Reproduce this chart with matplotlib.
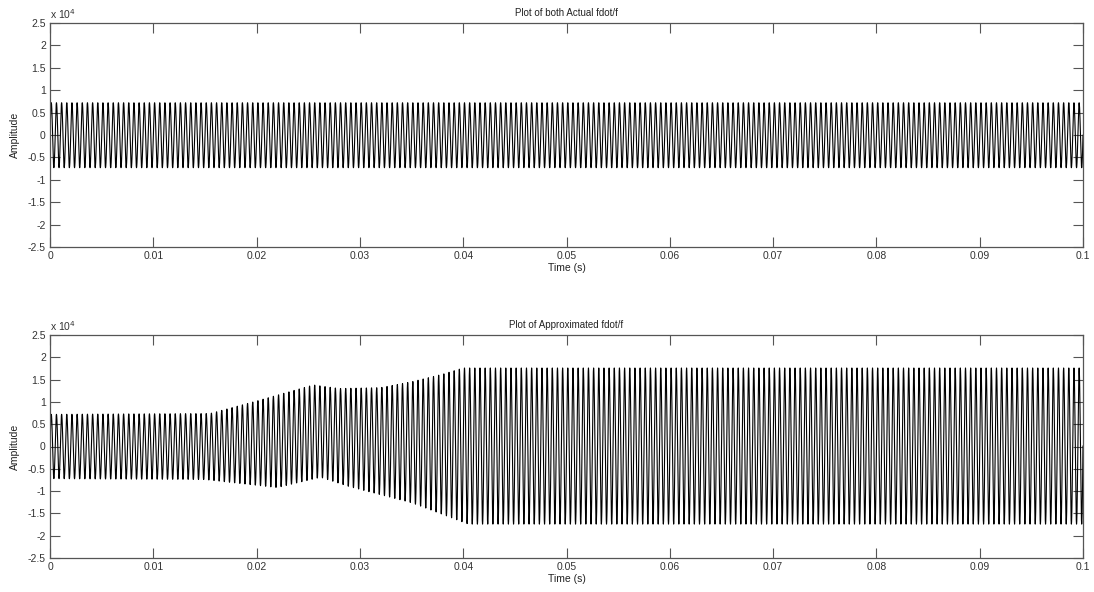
import numpy as np
import matplotlib
matplotlib.use("Agg")
import matplotlib.pyplot as plt
from matplotlib.ticker import FixedLocator, FuncFormatter

# Signal parameters
carrier_hz = 2000.0          # oscillation frequency of fdot/f
sample_rate = 200000.0       # samples per second
t_end = 0.1

# Actual fdot/f: constant envelope (amplitude in raw units)
actual_env_t = [0.0, 0.1]
actual_upper = [7200, 7200]
actual_lower = [-7300, -7300]

# Approximated fdot/f: envelope breakpoints (raw units)
approx_upper_t = [0.0, 0.0155, 0.020, 0.0255, 0.028, 0.032, 0.035, 0.038, 0.040, 0.1]
approx_upper = [7200, 7400, 10200, 13800, 13000, 13200, 14500, 16200, 17600, 17600]
approx_lower_t = [0.0, 0.015, 0.022, 0.0262, 0.029, 0.035, 0.0405, 0.1]
approx_lower = [-7200, -7400, -9200, -6900, -9000, -12600, -17400, -17400]

y_ticks = [-25000, -20000, -15000, -10000, -5000, 0, 5000, 10000, 15000, 20000, 25000]
x_ticks = [0, 0.01, 0.02, 0.03, 0.04, 0.05, 0.06, 0.07, 0.08, 0.09, 0.1]

titles = ["Plot of both Actual fdot/f", "Plot of Approximated fdot/f"]

t = np.arange(0, t_end + 1 / sample_rate, 1 / sample_rate)
carrier = np.sin(2 * np.pi * carrier_hz * t)


def build(up_t, up, lo_t, lo):
    u = np.interp(t, up_t, up)
    l = np.interp(t, lo_t, lo)
    return (u + l) / 2 + (u - l) / 2 * carrier


signals = [
    build(actual_env_t, actual_upper, actual_env_t, actual_lower),
    build(approx_upper_t, approx_upper, approx_lower_t, approx_lower),
]

fig = plt.figure(figsize=(10.94, 5.92), dpi=100)
plt.rcParams["font.family"] = ["Liberation Sans", "DejaVu Sans"]

W, H = 1094.0, 592.0
boxes = [(50, 23, 1083, 247), (50, 335, 1083, 558)]
axis_color = "#555555"
text_color = "#333333"


def fmt_y(v, _):
    return "%g" % (v / 1e4)


for box, sig, title in zip(boxes, signals, titles):
    x0, y0, x1, y1 = box
    ax = fig.add_axes([x0 / W, 1 - y1 / H, (x1 - x0) / W, (y1 - y0) / H])
    ax.plot(t, sig, color="black", lw=0.8)
    ax.set_xlim(0, 0.1)
    ax.set_ylim(-25000, 25000)
    ax.xaxis.set_major_locator(FixedLocator(x_ticks))
    ax.yaxis.set_major_locator(FixedLocator(y_ticks))
    ax.xaxis.set_major_formatter(FuncFormatter(lambda v, _: "%g" % v))
    ax.yaxis.set_major_formatter(FuncFormatter(fmt_y))
    ax.tick_params(direction="in", length=7.5, width=0.8, colors=axis_color,
                   labelcolor=text_color, labelsize=7.5, top=True, right=True, pad=3)
    for sp in ax.spines.values():
        sp.set_color(axis_color)
        sp.set_linewidth(0.9)
    ax.set_title(title, fontsize=7, color="#222222", pad=5)
    ax.set_xlabel("Time (s)", fontsize=7.5, color="#222222", labelpad=1)
    ax.set_ylabel("Amplitude", fontsize=7.5, color="#222222", labelpad=6)
    ax.text(0.0, 1.01, r"x 10$^{4}$", transform=ax.transAxes, fontsize=7.5,
            color=text_color, ha="left", va="bottom")

fig.savefig("out.png", dpi=100, facecolor="white")
